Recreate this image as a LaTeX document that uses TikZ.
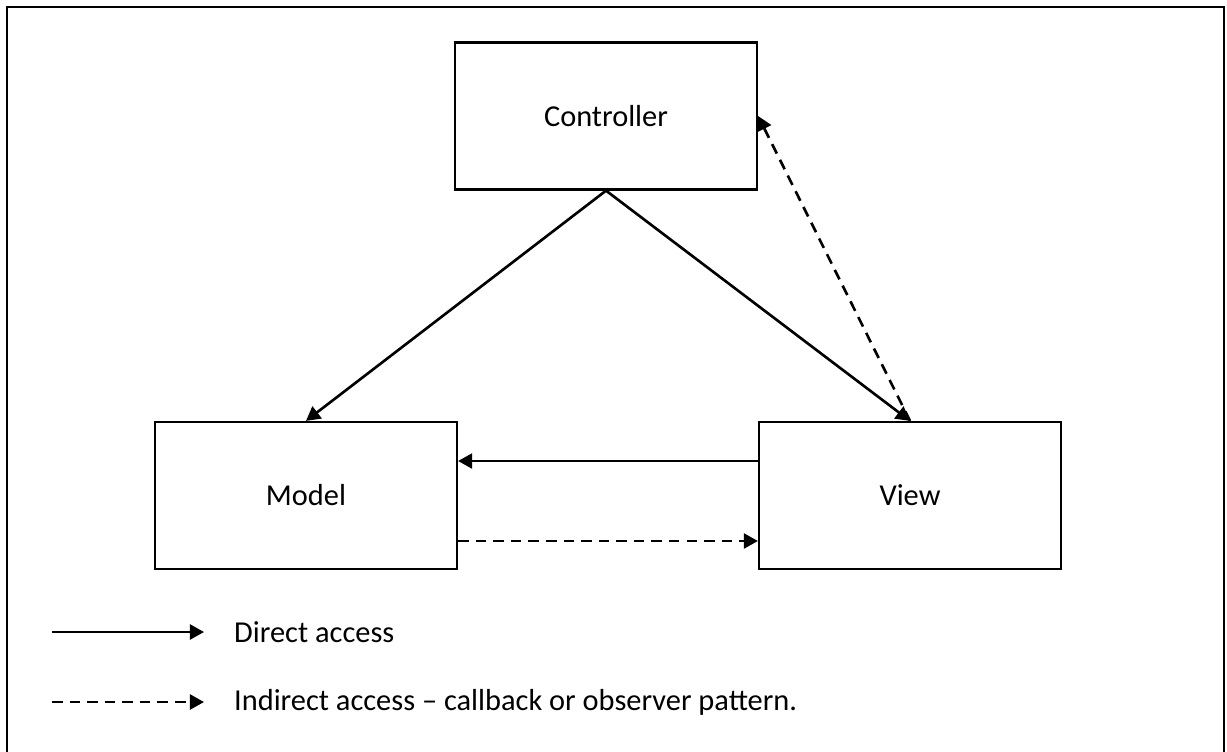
\documentclass[tikz,border=0pt]{standalone}
\usepackage{fontspec}
\setmainfont{Carlito}
\usetikzlibrary{arrows.meta}
\begin{document}
\begin{tikzpicture}[
    x=0.02cm, y=-0.02cm,
    every node/.style={font=\fontsize{17.3}{20}\selectfont},
    mvc box/.style={draw, line width=1.3pt, minimum width=6.04cm, minimum height=2.94cm},
    direct/.style={draw, line width=1.5pt, -{Triangle[length=8pt,width=8.5pt]}},
    indirect/.style={direct, dash pattern=on 6pt off 4pt},
    ]
\useasboundingbox (0,0) rectangle (1227,751);
\draw[line width=1.4pt] (7,7) rectangle (1224,770);
\node[mvc box] (ctrl) at (606,116) {Controller};
\node[mvc box] (model) at (306,495.5) {Model};
\node[mvc box] (view) at (910,495.5) {View};
\draw[direct] (ctrl.south) -- (model.north);
\draw[direct] (ctrl.south) -- (view.north);
\draw[indirect] (view.north) -- (ctrl.east);
\draw[direct] ([yshift=0.69cm]view.west) -- ([yshift=0.69cm]model.east);
\draw[indirect] ([yshift=-0.91cm]model.east) -- ([yshift=-0.91cm]view.west);
% legend
\coordinate (d1) at (52,632);
\coordinate (d2) at (204,632);
\coordinate (i1) at (52,702);
\coordinate (i2) at (204,702);
\draw[direct] (d1) -- (d2);
\draw[indirect] (i1) -- (i2);
\node[anchor=west] (dtext) at (228,632) {Direct access};
\node[anchor=west] (itext) at (228,702) {Indirect access -- callback or observer pattern.};
\end{tikzpicture}
\end{document}
